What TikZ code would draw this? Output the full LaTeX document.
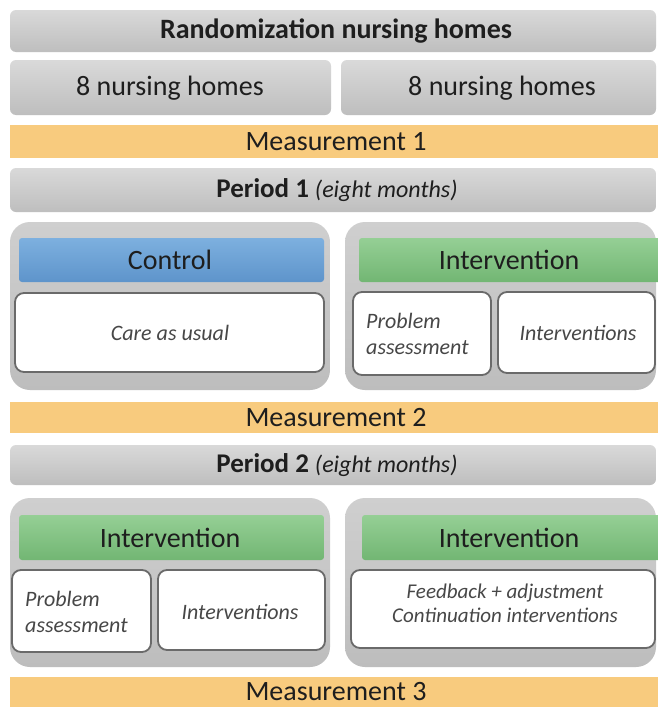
\documentclass[tikz,border=0pt]{standalone}
\usepackage{fontspec}
\setmainfont{Carlito}
\definecolor{barTop}{HTML}{D9D9D9}
\definecolor{barBot}{HTML}{BEBEBE}
\definecolor{contTop}{HTML}{CFCFCF}
\definecolor{contBot}{HTML}{BDBDBD}
\definecolor{orangeBar}{HTML}{F8CB7E}
\definecolor{blueTop}{HTML}{7DB0DF}
\definecolor{blueBot}{HTML}{5E94CB}
\definecolor{greenTop}{HTML}{95CF95}
\definecolor{greenBot}{HTML}{72B673}
\definecolor{edgeGray}{HTML}{6A6A6A}
\definecolor{txtDark}{HTML}{1E1E1E}
\newcommand\mkbox[6]{\node[#1, minimum width={#5-#3}, minimum height={#6-#4}] (#2) at ({(#3+#5)/2},{(#4+#6)/2}) {};}
\begin{document}
\begin{tikzpicture}[x=1pt,y=-1pt,
  bx/.style={rectangle, inner sep=0pt, outer sep=0pt},
  graybar/.style={bx, rounded corners=6pt, top color=barTop, bottom color=barBot},
  orangebar/.style={bx, fill=orangeBar},
  container/.style={bx, rounded corners=20pt, top color=contTop, bottom color=contBot},
  bluehead/.style={bx, rounded corners=3pt, top color=blueTop, bottom color=blueBot},
  greenhead/.style={bx, rounded corners=3pt, top color=greenTop, bottom color=greenBot},
  whitebox/.style={bx, rounded corners=9pt, fill=white, draw=edgeGray, line width=1.8pt},
  txt/.style={inner sep=0pt, text=txtDark},
  big/.style={txt, font=\fontsize{28}{32}\selectfont},
  bigb/.style={txt, font=\fontsize{28}{32}\selectfont\bfseries},
  meas/.style={txt, font=\fontsize{28}{32}\selectfont},
  small/.style={txt, font=\fontsize{22}{26}\selectfont\itshape, text=black!72},
  smaller/.style={txt, font=\fontsize{21}{24}\selectfont\itshape, text=black!72}
]
\useasboundingbox (0,0) rectangle (658,707);
\clip (0,0) rectangle (658,707);
\fill[white] (0,0) rectangle (658,707);

% top rows
\mkbox{graybar}{rand}{10}{10}{656}{52}
\node[bigb] (randT) at (336,31) {Randomization nursing homes};
\mkbox{graybar}{nhL}{10}{60}{331}{115}
\node[big] (nhLT) at (170,88) {8 nursing homes};
\mkbox{graybar}{nhR}{341}{60}{656}{115}
\node[big] (nhRT) at (502,88) {8 nursing homes};
\mkbox{orangebar}{mOne}{10}{125}{670}{158}
\node[meas] (mOneT) at (336,142) {Measurement 1};
\mkbox{graybar}{pOne}{10}{168}{656}{212}
\node[txt] (pOneT) at (337,190) {{\fontsize{27}{32}\selectfont\bfseries Period 1}\hspace{6pt}{\fontsize{24}{28}\selectfont\itshape (eight months)}};

% period 1 containers
\mkbox{container}{cOneL}{10}{222}{330}{390}
\mkbox{container}{cOneR}{345}{222}{656}{390}
\mkbox{bluehead}{ctrl}{19}{238}{324}{282}
\node[big] (ctrlT) at (170,260) {Control};
\mkbox{whitebox}{care}{15}{293}{324}{372}
\node[small] (careT) at (170,333) {Care as usual};
\mkbox{greenhead}{intA}{359}{238}{670}{282}
\node[big] (intAT) at (509,260) {Intervention};
\mkbox{whitebox}{paA}{353}{292}{491}{375}
\node[small, anchor=west, align=left] (paAT) at (366,334) {Problem\\assessment};
\mkbox{whitebox}{ivA}{498}{292}{655}{373}
\node[small] (ivAT) at (578,333) {Interventions};

% measurement 2, period 2
\mkbox{orangebar}{mTwo}{10}{402}{670}{433}
\node[meas] (mTwoT) at (336,418) {Measurement 2};
\mkbox{graybar}{pTwo}{10}{445}{656}{485}
\node[txt] (pTwoT) at (337,465) {{\fontsize{27}{32}\selectfont\bfseries Period 2}\hspace{6pt}{\fontsize{24}{28}\selectfont\itshape (eight months)}};

% period 2 containers
\mkbox{container}{cTwoL}{10}{498}{330}{667}
\mkbox{container}{cTwoR}{345}{498}{656}{667}
\mkbox{greenhead}{intB}{19}{515}{324}{560}
\node[big] (intBT) at (170,538) {Intervention};
\mkbox{greenhead}{intC}{362}{515}{670}{560}
\node[big] (intCT) at (509,538) {Intervention};
\mkbox{whitebox}{paB}{12}{570}{151}{652}
\node[small, anchor=west, align=left] (paBT) at (25,612) {Problem\\assessment};
\mkbox{whitebox}{ivB}{158}{570}{325}{650}
\node[small] (ivBT) at (240,612) {Interventions};
\mkbox{whitebox}{fb}{351}{570}{655}{648}
\node[smaller, align=center] (fbT) at (505,603) {Feedback + adjustment\\Continuation interventions};

% measurement 3
\mkbox{orangebar}{mThree}{10}{677}{670}{720}
\node[meas] (mThreeT) at (336,692) {Measurement 3};
\end{tikzpicture}
\end{document}
